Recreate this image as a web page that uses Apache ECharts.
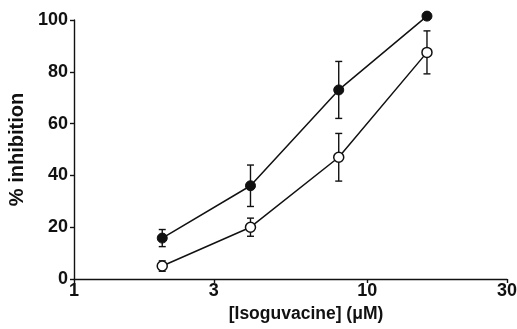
<!DOCTYPE html>
<html>
<head>
<meta charset="utf-8">
<script src="https://cdn.jsdelivr.net/npm/echarts@6/dist/echarts.min.js"></script>
<style>
  html, body { margin: 0; padding: 0; background: #fff; }
  #chart { width: 517px; height: 329px; }
</style>
</head>
<body>
<div id="chart"></div>
<script>
// Isoguvacine concentration (µM)
const concentrations = [2, 4, 8, 16];
// Filled circles: mean % inhibition and s.e.m.
const filledMean = [15.8, 36, 73, 101.5];
const filledErr = [3.3, 8, 11, 0];
// Open circles: mean % inhibition and s.e.m.
const openMean = [5, 20, 47, 87.5];
const openErr = [2, 3.5, 9.2, 8.3];
// Axis ticks
const xTicks = [1, 3, 10, 30];
const yTicks = [0, 20, 40, 60, 80, 100];

const font = '"Liberation Sans", Arial, Helvetica, sans-serif';

function pairs(means) {
  return concentrations.map((c, i) => [c, means[i]]);
}
function errData(means, errs) {
  return concentrations
    .map((c, i) => [c, means[i] - errs[i], means[i] + errs[i]])
    .filter((d, i) => errs[i] > 0);
}

function renderErrorBar(params, api) {
  const x = api.value(0);
  const lo = api.coord([x, api.value(1)]);
  const hi = api.coord([x, api.value(2)]);
  const half = 3.5;
  const style = { stroke: '#111', lineWidth: 1.4 };
  return {
    type: 'group',
    children: [
      { type: 'line', shape: { x1: lo[0], y1: lo[1], x2: hi[0], y2: hi[1] }, style },
      { type: 'line', shape: { x1: hi[0] - half, y1: hi[1], x2: hi[0] + half, y2: hi[1] }, style },
      { type: 'line', shape: { x1: lo[0] - half, y1: lo[1], x2: lo[0] + half, y2: lo[1] }, style }
    ]
  };
}

const chart = echarts.init(document.getElementById('chart'));
chart.setOption({
  animation: false,
  backgroundColor: '#fff',
  grid: { left: 74, right: 10, top: 20, bottom: 50, containLabel: false, outerBoundsMode: 'none' },
  xAxis: {
    type: 'log',
    logBase: 10,
    min: 1,
    max: 30,
    name: '[Isoguvacine] (\u03bcM)',
    nameLocation: 'middle',
    nameGap: 26,
    nameTextStyle: { fontFamily: font, fontSize: 17.5, fontWeight: 'bold', color: '#111', padding: [0, 0, 0, 31] },
    axisLine: { lineStyle: { color: '#111', width: 1.4 } },
    axisTick: { show: true, length: 4, customValues: xTicks, lineStyle: { color: '#111', width: 1.4 } },
    axisLabel: { customValues: xTicks, fontFamily: font, fontSize: 18, fontWeight: 'bold', color: '#111', margin: 3 },
    splitLine: { show: false },
    minorTick: { show: false }
  },
  yAxis: {
    type: 'value',
    min: 0,
    max: 100,
    interval: 20,
    name: '% inhibition',
    nameLocation: 'middle',
    nameGap: 42,
    nameTextStyle: { fontFamily: font, fontSize: 20, fontWeight: 'bold', color: '#111' },
    axisLine: { show: true, lineStyle: { color: '#111', width: 1.4 } },
    axisTick: { show: true, length: 4, customValues: yTicks, lineStyle: { color: '#111', width: 1.4 } },
    axisLabel: { customValues: yTicks, fontFamily: font, fontSize: 18, fontWeight: 'bold', color: '#111', margin: 6 },
    splitLine: { show: false }
  },
  series: [
    {
      type: 'custom',
      renderItem: renderErrorBar,
      data: errData(filledMean, filledErr),
      encode: { x: 0, y: [1, 2] },
      z: 1,
      clip: false
    },
    {
      type: 'custom',
      renderItem: renderErrorBar,
      data: errData(openMean, openErr),
      encode: { x: 0, y: [1, 2] },
      z: 1,
      clip: false
    },
    {
      type: 'line',
      data: pairs(filledMean),
      symbol: 'circle',
      symbolSize: 10,
      itemStyle: { color: '#111', borderColor: '#111', borderWidth: 1 },
      lineStyle: { color: '#111', width: 1.5 },
      z: 3,
      clip: false
    },
    {
      type: 'line',
      data: pairs(openMean),
      symbol: 'circle',
      symbolSize: 10,
      itemStyle: { color: '#fff', borderColor: '#111', borderWidth: 1.5 },
      lineStyle: { color: '#111', width: 1.5 },
      z: 3,
      clip: false
    }
  ]
});
</script>
</body>
</html>
